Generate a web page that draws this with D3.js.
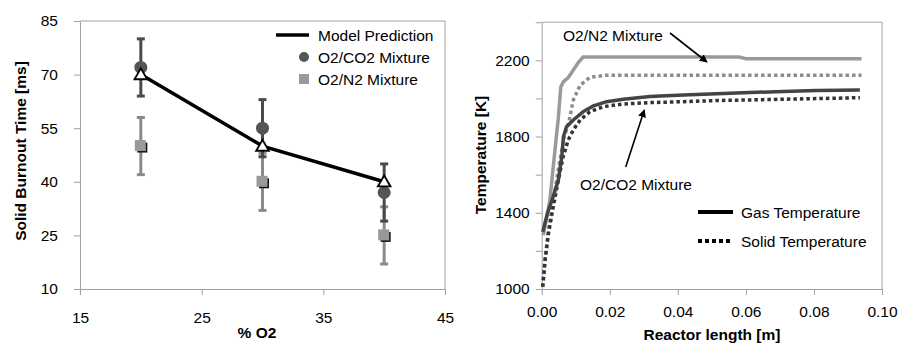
<!DOCTYPE html>
<html>
<head>
<meta charset="utf-8">
<script src="https://cdn.jsdelivr.net/npm/d3@7"></script>
<style>
  body { margin: 0; background: #fff; }
  text { font-family: "Liberation Sans", Arial, sans-serif; }
</style>
</head>
<body>
<svg id="chart" width="898" height="344"></svg>
<script>
// ---- left chart data: burnout time vs % O2
var o2Pct = [20, 30, 40];
var modelTime = [70, 50, 40];
var co2Time = [72, 55, 37];
var co2Err = [8, 8, 8];
var n2Time = [50, 40, 25];
var n2Err = [8, 8, 8];
var leftXTicks = [15, 25, 35, 45];
var leftYTicks = [10, 25, 40, 55, 70, 85];

// ---- right chart data: temperature vs reactor length
var n2GasX = [0.0005, 0.0015, 0.0024, 0.0039, 0.0049, 0.0056, 0.0064, 0.0078, 0.0093, 0.0108, 0.0122, 0.013, 0.058, 0.06, 0.094];
var n2GasT = [1283, 1379, 1467, 1729, 1900, 2060, 2088, 2110, 2149, 2190, 2217, 2217, 2217, 2208, 2208];
var n2SolidX = [0.0003, 0.001, 0.002, 0.0035, 0.005, 0.0065, 0.0081, 0.0093, 0.0113, 0.0142, 0.019, 0.025, 0.094];
var n2SolidT = [1010, 1160, 1310, 1470, 1640, 1790, 1887, 1992, 2070, 2111, 2122, 2122, 2122];
var co2GasX = [0.0003, 0.0017, 0.0034, 0.0049, 0.0059, 0.0064, 0.0073, 0.0093, 0.0122, 0.0152, 0.0191, 0.024, 0.0318, 0.0416, 0.0514, 0.0612, 0.071, 0.0808, 0.0935];
var co2GasT = [1300, 1398, 1486, 1573, 1695, 1800, 1852, 1887, 1931, 1961, 1983, 1996, 2010, 2018, 2024, 2031, 2036, 2041, 2044];
var co2SolidX = [0.0003, 0.001, 0.002, 0.0034, 0.0049, 0.0063, 0.0078, 0.0093, 0.0113, 0.0142, 0.0181, 0.024, 0.0318, 0.0416, 0.0514, 0.0612, 0.071, 0.0808, 0.0935];
var co2SolidT = [1012, 1152, 1292, 1432, 1572, 1694, 1782, 1835, 1887, 1931, 1957, 1971, 1978, 1983, 1989, 1992, 1996, 1999, 2004];
var rightXTicks = [0, 0.02, 0.04, 0.06, 0.08, 0.10];
var rightYTicks = [1000, 1200, 1400, 1600, 1800, 2000, 2200, 2400];
var rightYLabels = [1000, 1400, 1800, 2200];

var svg = d3.select("#chart");
var axisGrey = "#a0a0a0";

svg.append("defs").append("marker")
    .attr("id", "arrow")
    .attr("viewBox", "0 0 10 10")
    .attr("refX", 9).attr("refY", 5)
    .attr("markerWidth", 5).attr("markerHeight", 5)
    .attr("markerUnits", "strokeWidth")
    .attr("orient", "auto")
  .append("path")
    .attr("d", "M0,0L10,5L0,10z")
    .attr("fill", "#000");

// ================= LEFT CHART =================
var x1 = d3.scaleLinear().domain([15, 45]).range([80, 445]);
var y1 = d3.scaleLinear().domain([10, 85]).range([289, 21]);
var g1 = svg.append("g");

// plot border (top/right)
g1.append("path")
    .attr("d", "M" + x1(15) + "," + y1(85) + "H" + x1(45) + "V" + y1(10))
    .attr("fill", "none").attr("stroke", axisGrey);

var yAx1 = g1.append("g")
    .attr("transform", "translate(" + x1(15) + ",0)")
    .call(d3.axisLeft(y1).tickValues(leftYTicks).tickSize(6).tickPadding(16).tickSizeOuter(0));
var xAx1 = g1.append("g")
    .attr("transform", "translate(0," + y1(10) + ")")
    .call(d3.axisBottom(x1).tickValues(leftXTicks).tickSize(6).tickPadding(17).tickSizeOuter(0));

[yAx1, xAx1].forEach(function(a){
  a.select(".domain").attr("stroke", axisGrey);
  a.selectAll(".tick line").attr("stroke", axisGrey);
  a.selectAll("text").attr("font-size", 15.5).attr("fill", "#000")
      .attr("font-family", "Liberation Sans, Arial, sans-serif");
});

// error bars
function errorBars(vals, errs, color) {
  var eb = g1.append("g").attr("stroke", color).attr("stroke-width", 3);
  o2Pct.forEach(function(p, i){
    eb.append("line")
        .attr("x1", x1(p)).attr("x2", x1(p))
        .attr("y1", y1(vals[i] - errs[i])).attr("y2", y1(vals[i] + errs[i]));
    [vals[i] - errs[i], vals[i] + errs[i]].forEach(function(v){
      eb.append("line")
          .attr("x1", x1(p) - 4).attr("x2", x1(p) + 4)
          .attr("y1", y1(v)).attr("y2", y1(v));
    });
  });
}
errorBars(n2Time, n2Err, "#8a8a8a");
errorBars(co2Time, co2Err, "#4a4a4a");

// O2/N2 squares with shadow
o2Pct.forEach(function(p, i){
  g1.append("rect")
      .attr("x", x1(p) - 3.5).attr("y", y1(n2Time[i]) - 3.5)
      .attr("width", 10).attr("height", 10).attr("fill", "#111");
  g1.append("rect")
      .attr("x", x1(p) - 6).attr("y", y1(n2Time[i]) - 6)
      .attr("width", 11).attr("height", 11).attr("fill", "#999");
});

// O2/CO2 circles
g1.selectAll("circle.co2")
  .data(o2Pct)
  .enter().append("circle")
    .attr("class", "co2")
    .attr("cx", function(d){ return x1(d); })
    .attr("cy", function(d, i){ return y1(co2Time[i]); })
    .attr("r", 6.5)
    .attr("fill", "#555");

// model line
var modelLine = d3.line()
    .x(function(d){ return x1(d); })
    .y(function(d, i){ return y1(modelTime[i]); });
g1.append("path")
    .attr("d", modelLine(o2Pct))
    .attr("fill", "none").attr("stroke", "#000").attr("stroke-width", 3.5);

var tri = d3.symbol().type(d3.symbolTriangle).size(70);
o2Pct.forEach(function(p, i){
  g1.append("path")
      .attr("d", tri())
      .attr("transform", "translate(" + x1(p) + "," + (y1(modelTime[i]) + 1) + ")")
      .attr("fill", "#fff").attr("stroke", "#000").attr("stroke-width", 1.8);
});

// titles
g1.append("text")
    .attr("transform", "translate(26,151) rotate(-90)")
    .attr("text-anchor", "middle")
    .attr("font-size", 15.5).attr("font-weight", "bold")
    .text("Solid Burnout Time [ms]");
g1.append("text")
    .attr("x", 257).attr("y", 338)
    .attr("text-anchor", "middle")
    .attr("font-size", 15.5).attr("font-weight", "bold")
    .text("% O2");

// legend
var lg1 = g1.append("g");
lg1.append("line")
    .attr("x1", 276).attr("x2", 309).attr("y1", 35).attr("y2", 35)
    .attr("stroke", "#000").attr("stroke-width", 3.5);
lg1.append("circle").attr("cx", 304).attr("cy", 57).attr("r", 5).attr("fill", "#555");
lg1.append("rect").attr("x", 299).attr("y", 74).attr("width", 10).attr("height", 10).attr("fill", "#999");
["Model Prediction", "O2/CO2 Mixture", "O2/N2 Mixture"].forEach(function(t, i){
  lg1.append("text")
      .attr("x", 318).attr("y", 35 + i * 22 + 5.5)
      .attr("font-size", 15.5)
      .text(t);
});

// ================= RIGHT CHART =================
var x2 = d3.scaleLinear().domain([0, 0.10]).range([541.7, 882]);
var y2 = d3.scaleLinear().domain([1000, 2400]).range([289, 22.2]);
var g2 = svg.append("g");

g2.append("path")
    .attr("d", "M" + x2(0) + "," + y2(2400) + "H" + x2(0.10) + "V" + y2(1000))
    .attr("fill", "none").attr("stroke", axisGrey);

var yAx2 = g2.append("g")
    .attr("transform", "translate(" + x2(0) + ",0)")
    .call(d3.axisLeft(y2).tickValues(rightYTicks).tickSize(6).tickPadding(6).tickSizeOuter(0)
      .tickFormat(function(d){ return rightYLabels.indexOf(d) >= 0 ? d : ""; }));
var xAx2 = g2.append("g")
    .attr("transform", "translate(0," + y2(1000) + ")")
    .call(d3.axisBottom(x2).tickValues(rightXTicks).tickSize(6).tickPadding(11).tickSizeOuter(0)
      .tickFormat(d3.format(".2f")));

[yAx2, xAx2].forEach(function(a){
  a.select(".domain").attr("stroke", axisGrey);
  a.selectAll(".tick line").attr("stroke", axisGrey);
  a.selectAll("text").attr("font-size", 15.5).attr("fill", "#000")
      .attr("font-family", "Liberation Sans, Arial, sans-serif");
});

function tempLine(xs, ts) {
  return d3.line()
      .x(function(d){ return x2(d); })
      .y(function(d, i){ return y2(ts[i]); })(xs);
}

g2.append("path").attr("d", tempLine(n2SolidX, n2SolidT))
    .attr("fill", "none").attr("stroke", "#8c8c8c").attr("stroke-width", 3.5)
    .attr("stroke-dasharray", "3.5,3");
g2.append("path").attr("d", tempLine(co2SolidX, co2SolidT))
    .attr("fill", "none").attr("stroke", "#333").attr("stroke-width", 3.5)
    .attr("stroke-dasharray", "3.5,3");
g2.append("path").attr("d", tempLine(n2GasX, n2GasT))
    .attr("fill", "none").attr("stroke", "#9a9a9a").attr("stroke-width", 3.5);
g2.append("path").attr("d", tempLine(co2GasX, co2GasT))
    .attr("fill", "none").attr("stroke", "#444").attr("stroke-width", 3.5);

// annotations
g2.append("text").attr("x", 563).attr("y", 41).attr("font-size", 15.5).text("O2/N2 Mixture");
g2.append("line")
    .attr("x1", 670).attr("y1", 33).attr("x2", 707).attr("y2", 62)
    .attr("stroke", "#000").attr("stroke-width", 1.6).attr("marker-end", "url(#arrow)");
g2.append("text").attr("x", 580).attr("y", 190).attr("font-size", 15.5).text("O2/CO2 Mixture");
g2.append("line")
    .attr("x1", 625.7).attr("y1", 167).attr("x2", 644.3).attr("y2", 110)
    .attr("stroke", "#000").attr("stroke-width", 1.6).attr("marker-end", "url(#arrow)");

// legend
var lg2 = g2.append("g");
lg2.append("line").attr("x1", 698).attr("x2", 733).attr("y1", 212).attr("y2", 212)
    .attr("stroke", "#000").attr("stroke-width", 4);
lg2.append("line").attr("x1", 698).attr("x2", 733).attr("y1", 241).attr("y2", 241)
    .attr("stroke", "#000").attr("stroke-width", 4).attr("stroke-dasharray", "4,3");
lg2.append("text").attr("x", 741).attr("y", 217.5).attr("font-size", 15.5).text("Gas Temperature");
lg2.append("text").attr("x", 741).attr("y", 246.5).attr("font-size", 15.5).text("Solid Temperature");

// titles
g2.append("text")
    .attr("transform", "translate(486,155) rotate(-90)")
    .attr("text-anchor", "middle")
    .attr("font-size", 15.5).attr("font-weight", "bold")
    .text("Temperature [K]");
g2.append("text")
    .attr("x", 712).attr("y", 340)
    .attr("text-anchor", "middle")
    .attr("font-size", 15.5).attr("font-weight", "bold")
    .text("Reactor length [m]");
</script>
</body>
</html>
